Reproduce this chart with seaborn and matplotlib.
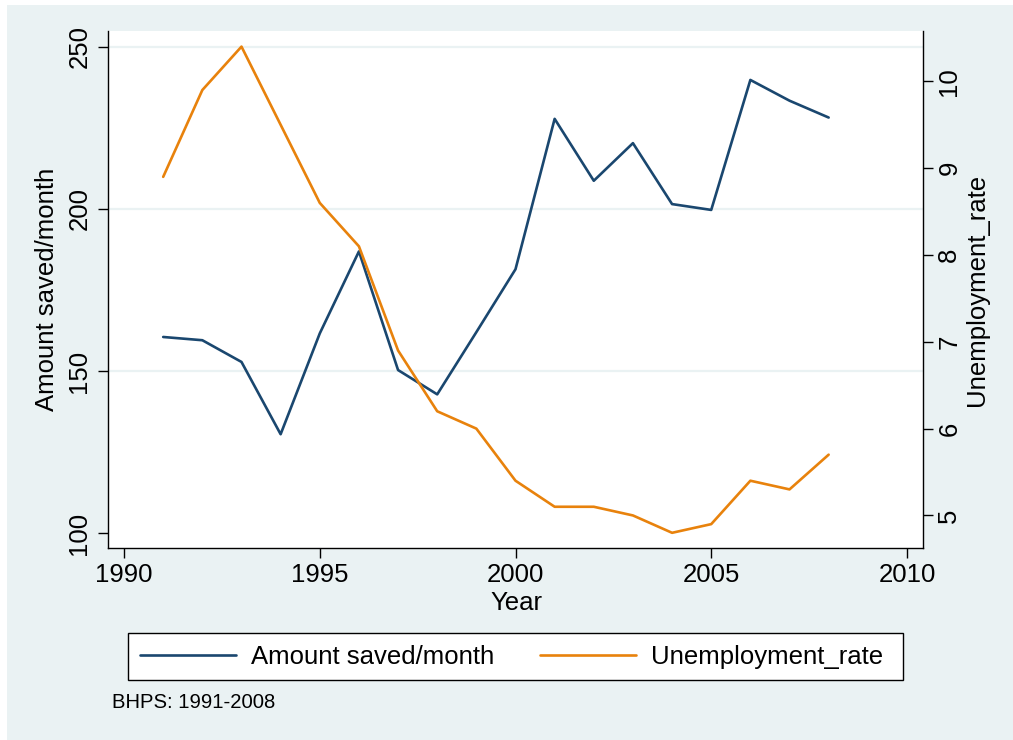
import matplotlib
matplotlib.use("Agg")
import matplotlib.pyplot as plt
from matplotlib.patches import Rectangle
from matplotlib.lines import Line2D
import seaborn as sns
import pandas as pd

# ---- data ----
years = [1991, 1992, 1993, 1994, 1995, 1996, 1997, 1998, 1999,
         2000, 2001, 2002, 2003, 2004, 2005, 2006, 2007, 2008]
amount_saved = [160.5, 159.5, 152.8, 130.5, 161.6, 186.9, 150.3, 142.8, 162.0,
                181.4, 227.8, 208.7, 220.3, 201.5, 199.7, 239.8, 233.4, 228.2]
unemployment_rate = [8.9, 9.9, 10.4, 9.5, 8.6, 8.1, 6.9, 6.2, 6.0,
                     5.4, 5.1, 5.1, 5.0, 4.8, 4.9, 5.4, 5.3, 5.7]
x_ticks = [1990, 1995, 2000, 2005, 2010]
left_ticks = [100, 150, 200, 250]
right_ticks = [5, 6, 7, 8, 9, 10]
series_labels = ["Amount saved/month", "Unemployment_rate"]
note_text = "BHPS: 1991-2008"

df = pd.DataFrame({"Year": years, "saved": amount_saved, "unemp": unemployment_rate})

sns.set_style("white")
plt.rcParams["font.family"] = ["Liberation Sans", "DejaVu Sans"]
plt.rcParams["text.color"] = "black"
plt.rcParams["axes.labelcolor"] = "black"
plt.rcParams["xtick.color"] = "black"
plt.rcParams["ytick.color"] = "black"
plt.rcParams["xtick.labelcolor"] = "black"
plt.rcParams["ytick.labelcolor"] = "black"

W, H = 1013, 740
BG = "#EAF2F3"
BLUE = "#1A476F"
ORANGE = "#E8820C"
FS = 18.5
FSPX = FS * 100 / 72

fig = plt.figure(figsize=(W / 100, H / 100), dpi=100)
fig.patch.set_facecolor("white")
fig.patches.append(Rectangle((7 / W, 0), 1 - 7 / W, 1 - 5 / H, transform=fig.transFigure,
                             facecolor=BG, edgecolor="none", zorder=-10))

L, R, T, B = 108, 923, 31, 548
ax = fig.add_axes([L / W, 1 - B / H, (R - L) / W, (B - T) / H])
ax.set_facecolor("white")
ax2 = ax.twinx()

sns.lineplot(data=df, x="Year", y="saved", ax=ax, color=BLUE, linewidth=1.9)
sns.lineplot(data=df, x="Year", y="unemp", ax=ax2, color=ORANGE, linewidth=1.9)

ax.set_xlim(1989.59, 2010.41)
ax.set_ylim(95.4, 254.9)
ax2.set_ylim(4.625, 10.58)
ax.set_xticks(x_ticks)
ax.set_yticks(left_ticks)
ax2.set_yticks(right_ticks)
ax.set_xticklabels([str(v) for v in x_ticks])
ax.set_yticklabels([str(v) for v in left_ticks])
ax2.set_yticklabels([str(v) for v in right_ticks])

# grid lines (except at 100)
for v in left_ticks[1:]:
    ax.axhline(v, color=BG, linewidth=1.6, zorder=0)

for a in (ax, ax2):
    a.spines["top"].set_visible(False)
    for s in ("left", "bottom", "right"):
        a.spines[s].set_color("black")
        a.spines[s].set_linewidth(1.0)
ax.spines["right"].set_visible(False)
ax2.spines["left"].set_visible(False)
ax2.spines["bottom"].set_visible(False)

ax.tick_params(axis="x", direction="out", length=7.5, width=1, color="black",
               labelsize=FS, pad=3.0, bottom=True, labelcolor="black")
ax.tick_params(axis="y", direction="out", length=7.5, width=1, color="black",
               labelsize=FS, pad=4.5, labelrotation=90, left=True, labelcolor="black")
ax2.tick_params(axis="y", direction="out", length=7.5, width=1, color="black",
                labelsize=FS, pad=2.8, labelrotation=90, right=True, labelcolor="black")
plt.setp(ax.get_yticklabels(), va="center")
plt.setp(ax2.get_yticklabels(), va="center")

ax.set_xlabel("Year", fontsize=FS, color="black")
ax.set_ylabel(series_labels[0], fontsize=FS, color="black")
ax2.set_ylabel(series_labels[1], fontsize=FS, rotation=90, color="black")
ax.xaxis.label.set_va("center")
ax.yaxis.label.set_va("center")
ax2.yaxis.label.set_va("center")
ax.xaxis.set_label_coords((516 - L) / (R - L), (B - 603) / (B - T))
ax.yaxis.set_label_coords((47 - L) / (R - L), 0.5)
ax2.yaxis.set_label_coords((977 - L) / (R - L), 0.5)

# legend box
fig.patches.append(Rectangle((128 / W, 1 - 680 / H), 775 / W, 47 / H, transform=fig.transFigure,
                             facecolor="white", edgecolor="black", linewidth=1.0, zorder=1))
handles = [Line2D([], [], color=BLUE, linewidth=1.9), Line2D([], [], color=ORANGE, linewidth=1.9)]
leg = fig.legend(handles, series_labels, ncol=2, loc="center left",
                 bbox_to_anchor=(128 / W, 1 - 657 / H),
                 bbox_transform=fig.transFigure, borderaxespad=0, frameon=False,
                 fontsize=FS, handlelength=96 / FSPX, handletextpad=15 / FSPX,
                 columnspacing=46 / FSPX, borderpad=12 / FSPX)
leg.set_zorder(5)

fig.text(112 / W, 1 - 702 / H, note_text, fontsize=14.6, va="center", ha="left")

fig.savefig("out.png", dpi=100, facecolor=fig.get_facecolor())
